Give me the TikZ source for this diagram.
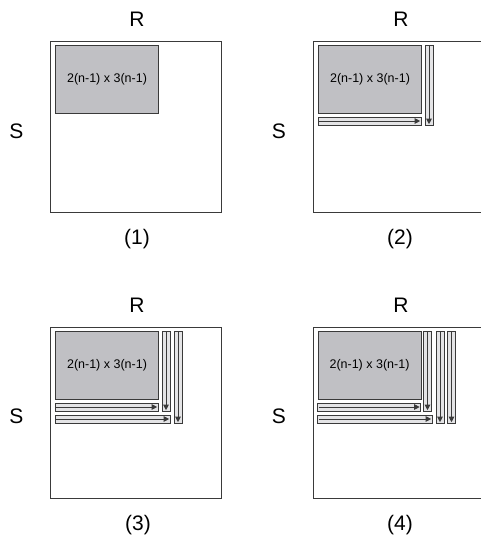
\documentclass[tikz,border=0pt]{standalone}
\usepackage{fontspec}
\setmainfont{Liberation Sans}
\usetikzlibrary{arrows.meta}
\definecolor{blockfill}{HTML}{C0C0C4}
\definecolor{barfill}{HTML}{E4E4E6}
\definecolor{edgecol}{HTML}{3A3A3A}
\tikzset{
  outerbox/.style={draw=edgecol, line width=1.2pt, minimum width=171pt, minimum height=171pt, inner sep=0pt, anchor=north west},
  blockbox/.style={draw=edgecol, fill=blockfill, line width=1pt, minimum width=103pt, minimum height=68pt, inner sep=0pt, anchor=north west, font=\fontsize{12.5}{14}\selectfont},
  barbox/.style={draw=edgecol, fill=barfill, line width=0.9pt},
  barline/.style={draw=edgecol, line width=0.8pt, -{Triangle[length=5.5pt,width=5.5pt]}},
  biglabel/.style={font=\fontsize{21}{25}\selectfont, inner sep=0pt}
}
\newcommand{\HBarDraw}[3]{% x1 x2 y1 (height 8)
  \filldraw[barbox] (#1,#3) rectangle (#2,{#3+8});
  \draw[barline] ({#1+1},{#3+4}) -- ({#2-0.8},{#3+4});
}
\newcommand{\VBarDraw}[3]{% x1 y1 y2 (width 8)
  \filldraw[barbox] (#1,#2) rectangle ({#1+8},#3);
  \draw[barline] ({#1+4},{#2+1}) -- ({#1+4},{#3-0.8});
}
\begin{document}
\begin{tikzpicture}[x=1pt,y=-1pt]
\useasboundingbox[fill=white] (0,0) rectangle (481,542);

% ---------- panel 1
\begin{scope}[shift={(50,41)}]
  \node[outerbox] (o1) at (0,0) {};
  \node[blockbox] (g1) at (5,4) {2(n-1) x 3(n-1)};
\end{scope}
\node[biglabel] (r1) at (137,19.5) {R};
\node[biglabel] (s1) at (16.5,131) {S};
\node[biglabel] (c1) at (137,239.5) {(1)};

% ---------- panel 2
\begin{scope}[shift={(313,41)}]
  \node[outerbox] (o2) at (0,0) {};
  \node[blockbox] (g2) at (5,4) {2(n-1) x 3(n-1)};
  \HBarDraw{5}{108}{76}
  \VBarDraw{112}{4}{84}
\end{scope}
\node[biglabel] (r2) at (401,19.5) {R};
\node[biglabel] (s2) at (279,131) {S};
\node[biglabel] (c2) at (400,239.5) {(2)};

% ---------- panel 3
\begin{scope}[shift={(50,326.5)}]
  \node[outerbox] (o3) at (0,0) {};
  \node[blockbox] (g3) at (5,4.5) {2(n-1) x 3(n-1)};
  \HBarDraw{5}{108}{76.5}
  \VBarDraw{112}{4.5}{84.5}
  \HBarDraw{5}{120}{88.5}
  \VBarDraw{124}{4.5}{96.5}
\end{scope}
\node[biglabel] (r3) at (137,305) {R};
\node[biglabel] (s3) at (16.5,416) {S};
\node[biglabel] (c3) at (138,525) {(3)};

% ---------- panel 4
\begin{scope}[shift={(313,326.5)}]
  \node[outerbox] (o4) at (0,0) {};
  \node[blockbox] (g4) at (4.5,4.5) {2(n-1) x 3(n-1)};
  \HBarDraw{4.5}{107.5}{76.5}
  \VBarDraw{110.5}{4.5}{84.5}
  \HBarDraw{4.5}{119}{88.5}
  \VBarDraw{123}{4.5}{96.5}
  \VBarDraw{134.5}{4.5}{96.5}
\end{scope}
\node[biglabel] (r4) at (401,305) {R};
\node[biglabel] (s4) at (279,416) {S};
\node[biglabel] (c4) at (400,525) {(4)};
\end{tikzpicture}
\end{document}
